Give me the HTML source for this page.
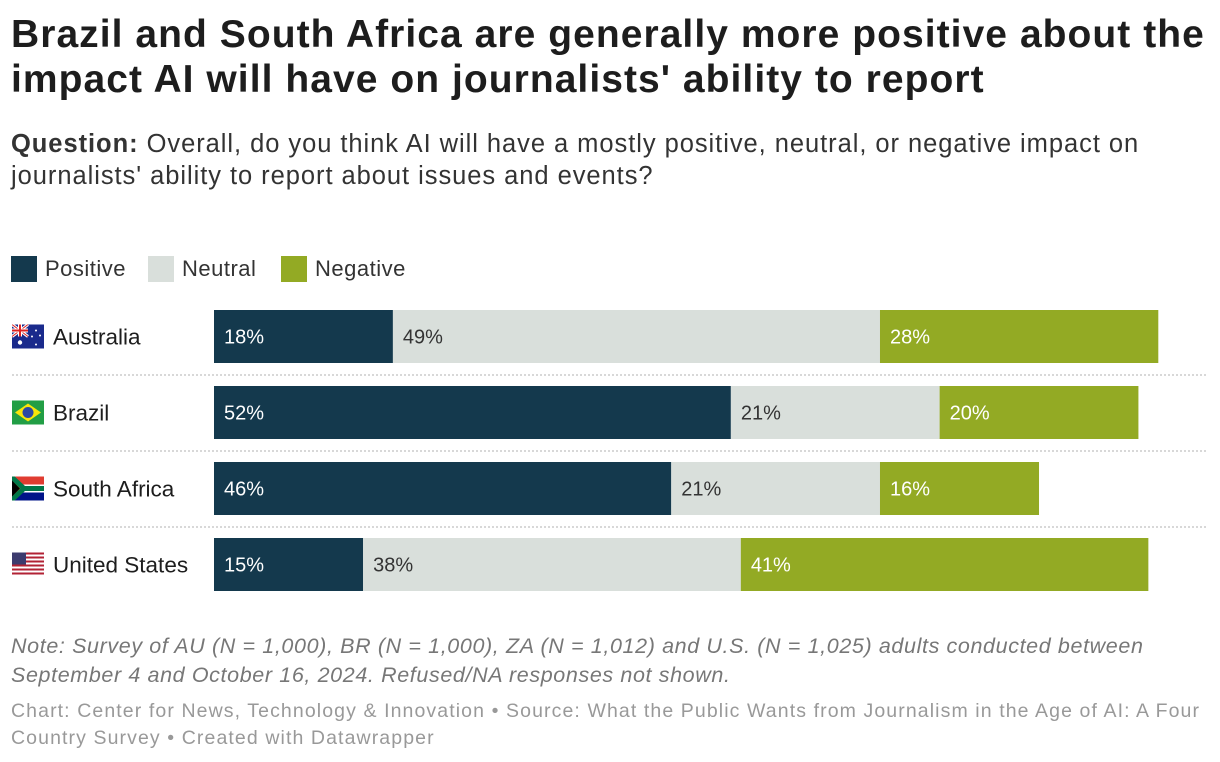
<!DOCTYPE html>
<html><head><meta charset="utf-8"><style>
body{margin:0;width:1220px;height:762px;background:#fff;font-family:"Liberation Sans",sans-serif;color:#1d1d1d;position:relative;overflow:hidden}
.abs{position:absolute;white-space:nowrap}
h1{position:absolute;left:11px;top:12px;margin:0;font-size:39px;line-height:45px;font-weight:bold;white-space:nowrap;letter-spacing:1.05px}
.q{left:11px;top:128px;font-size:25.5px;line-height:32px;color:#333;letter-spacing:0.95px}
.leg{top:256px;font-size:22px;color:#333;display:flex;align-items:center;letter-spacing:0.5px}
.sw{width:26px;height:26px;display:inline-block;margin-right:8px}
.note{left:11px;top:632px;font-size:21.5px;line-height:29px;font-style:italic;color:#777;letter-spacing:0.62px}
.src{left:11px;top:698px;font-size:19.5px;line-height:27px;color:#999;letter-spacing:1.1px}
</style></head><body>
<h1>Brazil and South Africa are generally more positive about the<br>impact AI will have on journalists' ability to report</h1>
<div class="abs q"><b>Question:</b> Overall, do you think AI will have a mostly positive, neutral, or negative impact on<br>journalists' ability to report about issues and events?</div>
<div class="abs leg" style="left:11px"><span class="sw" style="background:#14394d"></span>Positive</div>
<div class="abs leg" style="left:148px"><span class="sw" style="background:#d9dfdb"></span>Neutral</div>
<div class="abs leg" style="left:281px"><span class="sw" style="background:#93aa24"></span>Negative</div>
<svg class="abs" style="left:0;top:0" width="1220" height="762" id="chart">
<defs>
<clipPath id="fc"><rect width="32" height="24"/></clipPath>
<g id="f-au" clip-path="url(#fc)"><rect width="32" height="24" fill="#1a2a8c"/><path d="M0 0L16 12M16 0L0 12" stroke="#fff" stroke-width="3"/><path d="M0 0L16 12M16 0L0 12" stroke="#d22" stroke-width="1"/><rect x="6" y="0" width="4" height="12" fill="#fff"/><rect x="0" y="4" width="16" height="4" fill="#fff"/><rect x="7" y="0" width="2" height="12" fill="#d22"/><rect x="0" y="5" width="16" height="2" fill="#d22"/><circle cx="8" cy="18" r="2.2" fill="#fff"/><circle cx="24" cy="6" r="1" fill="#fff"/><circle cx="28" cy="11" r="1" fill="#fff"/><circle cx="20" cy="12" r="1" fill="#fff"/><circle cx="24" cy="20" r="1" fill="#fff"/></g>
<g id="f-br" clip-path="url(#fc)"><rect width="32" height="24" fill="#229e45"/><path d="M16 3L29 12L16 21L3 12Z" fill="#f8e509"/><circle cx="16" cy="12" r="5.5" fill="#2b49a3"/></g>
<g id="f-za" clip-path="url(#fc)"><rect width="32" height="12" fill="#e03c31"/><rect y="12" width="32" height="12" fill="#001489"/><path d="M0 0L12 12L0 24" fill="#fff"/><rect x="8" y="8" width="24" height="8" fill="#fff"/><path d="M0 2L10 12L0 22" fill="#ffb81c"/><path d="M-2 -1L12 12L-2 25" stroke="#007749" stroke-width="5" fill="none"/><rect x="10" y="9.5" width="22" height="5" fill="#007749"/><path d="M0 4L8 12L0 20Z" fill="#000"/></g>
<g id="f-us" clip-path="url(#fc)"><rect width="32" height="24" fill="#fff"/><g fill="#b22234"><rect y="0" width="32" height="2"/><rect y="4" width="32" height="2"/><rect y="8" width="32" height="2"/><rect y="12" width="32" height="2"/><rect y="16" width="32" height="2"/><rect y="20" width="32" height="2"/></g><rect width="14" height="12" fill="#3c3b6e"/></g>
</defs>
</svg>
<div class="abs note">Note: Survey of AU (N = 1,000), BR (N = 1,000), ZA (N = 1,012) and U.S. (N = 1,025) adults conducted between<br>September 4 and October 16, 2024. Refused/NA responses not shown.</div>
<div class="abs src">Chart: Center for News, Technology &amp; Innovation • Source: What the Public Wants from Journalism in the Age of AI: A Four<br>Country Survey • Created with Datawrapper</div>
<script>
const countries=["Australia","Brazil","South Africa","United States"];
const flags=["f-au","f-br","f-za","f-us"];
const positive=[18,52,46,15];
const neutral=[49,21,21,38];
const negative=[28,20,16,41];
const NS="http://www.w3.org/2000/svg";
const svg=document.getElementById('chart');
const x0=214,pxPer=9.94,rowTop=310,rowStep=76,barH=53;
const xs=v=>x0+v*pxPer;
const yRow=i=>rowTop+i*rowStep;
function mk(t,a){const e=document.createElementNS(NS,t);for(const k in a)e.setAttribute(k,a[k]);svg.appendChild(e);return e;}
const series=[[positive,"#14394d","#fff","positive"],[neutral,"#d9dfdb","#333","neutral"],[negative,"#93aa24","#fff","negative"]];
countries.forEach((c,i)=>{
  const y=yRow(i);
  if(i>0){const l=mk('line',{x1:12,x2:1208,y1:y-11,y2:y-11,stroke:'#ccc','stroke-width':1.5,'stroke-dasharray':'2,2'});
  
  }
  const f=mk('use',{href:'#'+flags[i],x:12,y:y+barH/2-12});
  
  
  const t=mk('text',{x:53,y:y+barH/2+8,'font-size':22.5,fill:'#1d1d1d'});t.textContent=c;
  
  
  let cum=0;
  series.forEach(([arr,col,tc,nm])=>{
    const v=arr[i];
    const r=mk('rect',{x:xs(cum),y:y,width:xs(cum+v)-xs(cum),height:barH,fill:col});
    
    
    const lt=mk('text',{x:xs(cum)+10,y:y+barH/2+7,'font-size':20,fill:tc});lt.textContent=v+'%';
    
    
    cum+=v;
  });
});
</script>
</body></html>
